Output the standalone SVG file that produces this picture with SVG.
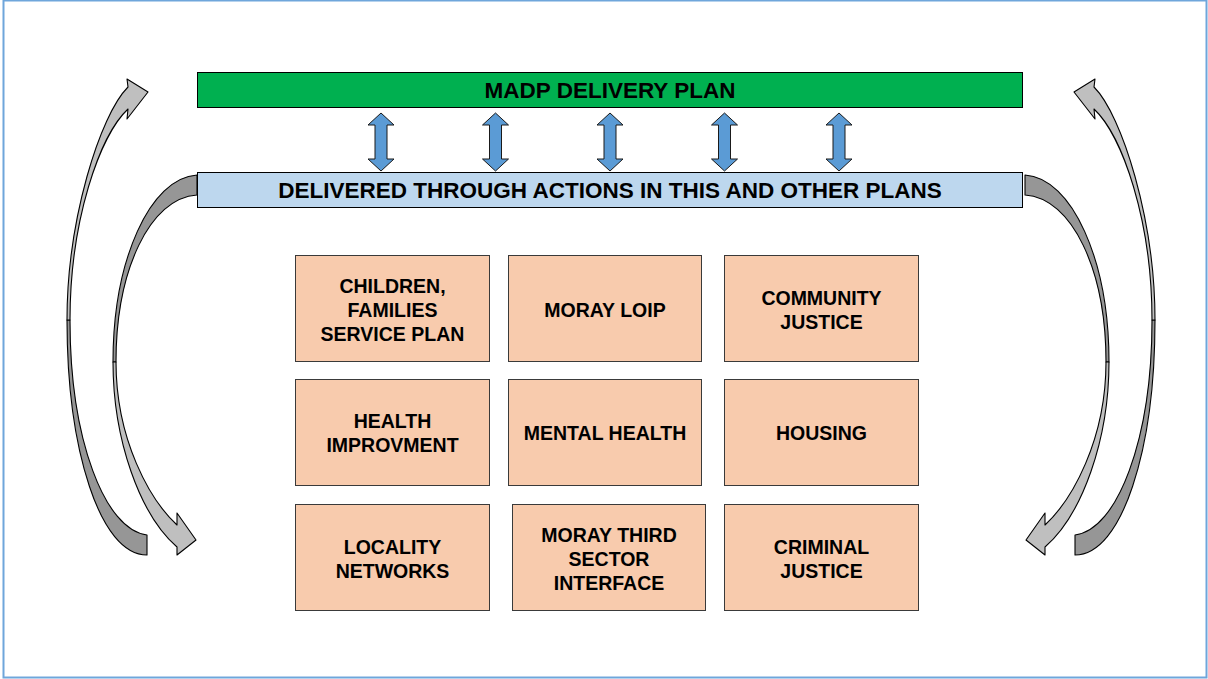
<svg xmlns="http://www.w3.org/2000/svg" xmlns:xlink="http://www.w3.org/1999/xlink" width="1208" height="679" viewBox="0 0 1208 679">
<style>
.bar{stroke:#000;stroke-width:1}
.box{fill:#f8cbad;stroke:#3a3a3a;stroke-width:1}
.t{font-family:"Liberation Sans",Arial,sans-serif;font-weight:bold;fill:#000;text-anchor:middle}
.tb{font-size:22.5px}
.tn{font-size:19.5px}
.light{fill:#bfbfbf;stroke:#000;stroke-width:1.1;stroke-linejoin:round}
.dark{fill:#969696;stroke:#000;stroke-width:1.1;stroke-linejoin:round}
.dbl{fill:#5b9bd5;stroke:#1a1a1a;stroke-width:1}
</style>
<defs>
<path id="dbl" d="M0,113 L13,125 L6,125 L6,159 L13,159 L0,171 L-13,159 L-6,159 L-6,125 L-13,125 Z"/>
<g id="curves">
<path class="dark" d="M67,320 C67,450 100,555 147,555 L147,535 C105,530 70,440 70,320 Z"/>
<path class="light" d="M128,87 L127,79 L148,92 L127,119 L128,109 C100,135 70,220 70,320 L67,320 C67,220 100,115 128,87 Z"/>
<path class="dark" d="M197,175 C150,178 113,260 113,362 L116,362 C116,270 150,198 197,195 Z"/>
<path class="light" d="M113,362 C113,440 140,515 177,547 L177,555 L196,540 L177,513 L177,525 C150,500 116,440 116,362 Z"/>
</g>
</defs>
<rect x="3.5" y="0.5" width="1203" height="677" fill="#fff" stroke="#6fa6db" stroke-width="2"/>
<g id="connectors">
<use xlink:href="#curves"/>
<use xlink:href="#curves" transform="matrix(-1,0,0,1,1222,0)"/>
<use xlink:href="#dbl" class="dbl" x="381"/>
<use xlink:href="#dbl" class="dbl" x="495.5"/>
<use xlink:href="#dbl" class="dbl" x="610"/>
<use xlink:href="#dbl" class="dbl" x="724.5"/>
<use xlink:href="#dbl" class="dbl" x="839"/>
</g>
<g id="madp">
<rect class="bar" x="197.5" y="72.5" width="825" height="35" fill="#00b050"/>
<text class="t tb" x="610" y="98">MADP DELIVERY PLAN</text>
</g>
<g id="delivered">
<rect class="bar" x="197.5" y="172.5" width="825" height="35" fill="#bdd7ee"/>
<text class="t tb" x="610" y="198">DELIVERED THROUGH ACTIONS IN THIS AND OTHER PLANS</text>
</g>
<g id="children">
<rect class="box" x="295.5" y="255.5" width="194" height="106"/>
<text class="t tn" x="392.5" y="293">CHILDREN,</text>
<text class="t tn" x="392.5" y="317">FAMILIES</text>
<text class="t tn" x="392.5" y="341">SERVICE PLAN</text>
</g>
<g id="loip">
<rect class="box" x="508.5" y="255.5" width="193" height="106"/>
<text class="t tn" x="605" y="317">MORAY LOIP</text>
</g>
<g id="community">
<rect class="box" x="724.5" y="255.5" width="194" height="106"/>
<text class="t tn" x="821.5" y="305">COMMUNITY</text>
<text class="t tn" x="821.5" y="329">JUSTICE</text>
</g>
<g id="health">
<rect class="box" x="295.5" y="379.5" width="194" height="106"/>
<text class="t tn" x="392.5" y="428">HEALTH</text>
<text class="t tn" x="392.5" y="452">IMPROVMENT</text>
</g>
<g id="mental">
<rect class="box" x="508.5" y="379.5" width="193" height="106"/>
<text class="t tn" x="605" y="440">MENTAL HEALTH</text>
</g>
<g id="housing">
<rect class="box" x="724.5" y="379.5" width="194" height="106"/>
<text class="t tn" x="821.5" y="440">HOUSING</text>
</g>
<g id="locality">
<rect class="box" x="295.5" y="504.5" width="194" height="106"/>
<text class="t tn" x="392.5" y="554">LOCALITY</text>
<text class="t tn" x="392.5" y="578">NETWORKS</text>
</g>
<g id="thirdsector">
<rect class="box" x="512.5" y="504.5" width="193" height="106"/>
<text class="t tn" x="609" y="542">MORAY THIRD</text>
<text class="t tn" x="609" y="566">SECTOR</text>
<text class="t tn" x="609" y="590">INTERFACE</text>
</g>
<g id="criminal">
<rect class="box" x="724.5" y="504.5" width="194" height="106"/>
<text class="t tn" x="821.5" y="554">CRIMINAL</text>
<text class="t tn" x="821.5" y="578">JUSTICE</text>
</g>
</svg>
